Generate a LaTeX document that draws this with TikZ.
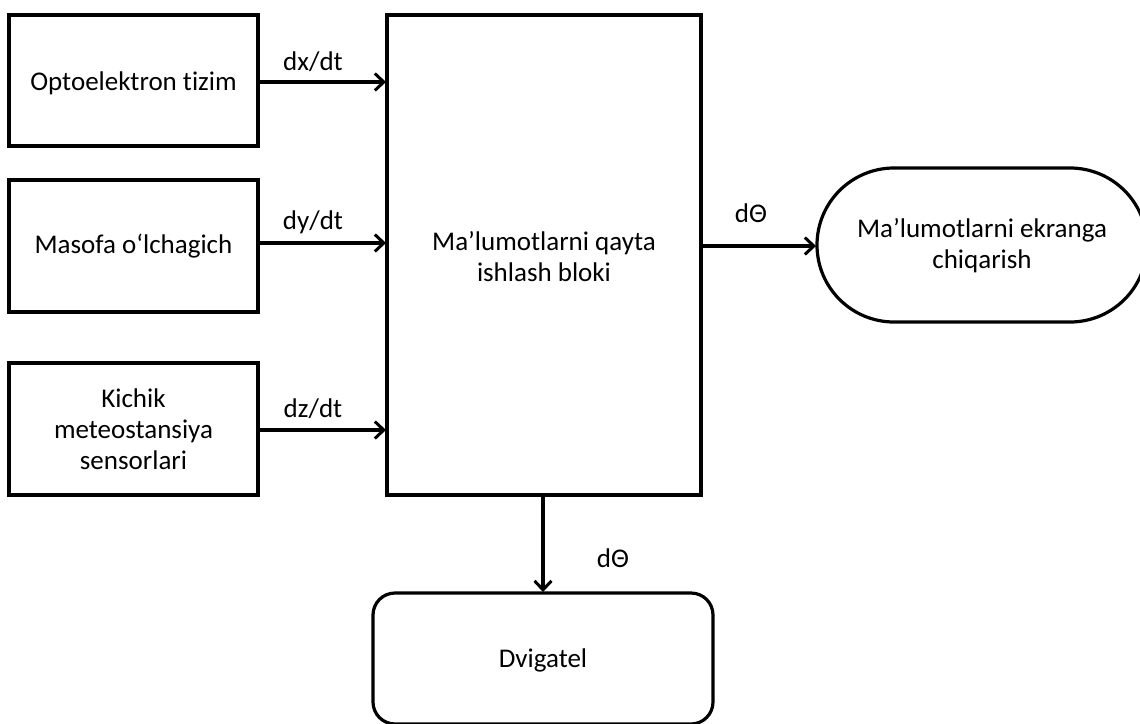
\documentclass[tikz,border=0pt]{standalone}
\usepackage{fontspec}
\setmainfont[Ligatures=NoCommon]{Carlito}
\usetikzlibrary{arrows.meta}
\begin{document}
\begin{tikzpicture}[x=1pt,y=-1pt,
  line width=3.2pt,
  font=\fontsize{27}{31}\selectfont,
  flow/.style={-{Straight Barb[length=9pt,width=17pt,line width=3pt]}},
  lbl/.style={inner sep=0pt, anchor=center}]
\useasboundingbox (0,0) rectangle (1140,723);
\clip (0,0) rectangle (1140,723);
\fill[white] (0,0) rectangle (1140,723);

% input blocks
\draw (9,15) rectangle (258,146);
\node[lbl] (opto) at (133.5,83) {Optoelektron tizim};
\draw (9,180) rectangle (258,312);
\node[lbl] (mas) at (133.5,246) {Masofa o‘lchagich};
\draw (9,363) rectangle (258,495);
\node[lbl, align=center] (kich) at (133.5,429) {Kichik\\meteostansiya\\sensorlari};

% processing block
\draw (387,15) rectangle (701,495);
\node[lbl, align=center] (proc) at (544,257) {Ma’lumotlarni qayta\\ishlash bloki};

% output: display
\draw[rounded corners=77pt] (817,168) rectangle (1147,322);
\node[lbl, align=center] (disp) at (982,246) {Ma’lumotlarni ekranga\\chiqarish};

% output: motor
\draw[rounded corners=22pt] (373,593) rectangle (713,724);
\node[lbl] (dvig) at (543,660) {Dvigatel};

% anchor points on block edges
\coordinate (o1) at (258,82);  \coordinate (i1) at (386,82);
\coordinate (o2) at (258,243); \coordinate (i2) at (386,243);
\coordinate (o3) at (258,430); \coordinate (i3) at (386,430);
\coordinate (o4) at (701,246); \coordinate (i4) at (816,246);
\coordinate (o5) at (543,495); \coordinate (i5) at (543,592);

% connectors
\draw[flow] (o1) -- (i1);
\draw[flow] (o2) -- (i2);
\draw[flow] (o3) -- (i3);
\draw[flow] (o4) -- (i4);
\draw[flow] (o5) -- (i5);

% signal labels
\node[lbl] (lx) at (313,62) {dx/dt};
\node[lbl] (ly) at (313,222) {dy/dt};
\node[lbl] (lz) at (313,409) {dz/dt};
\node[lbl] (lt1) at (751,213) {dΘ};
\node[lbl] (lt2) at (613,558) {dΘ};
\end{tikzpicture}
\end{document}
